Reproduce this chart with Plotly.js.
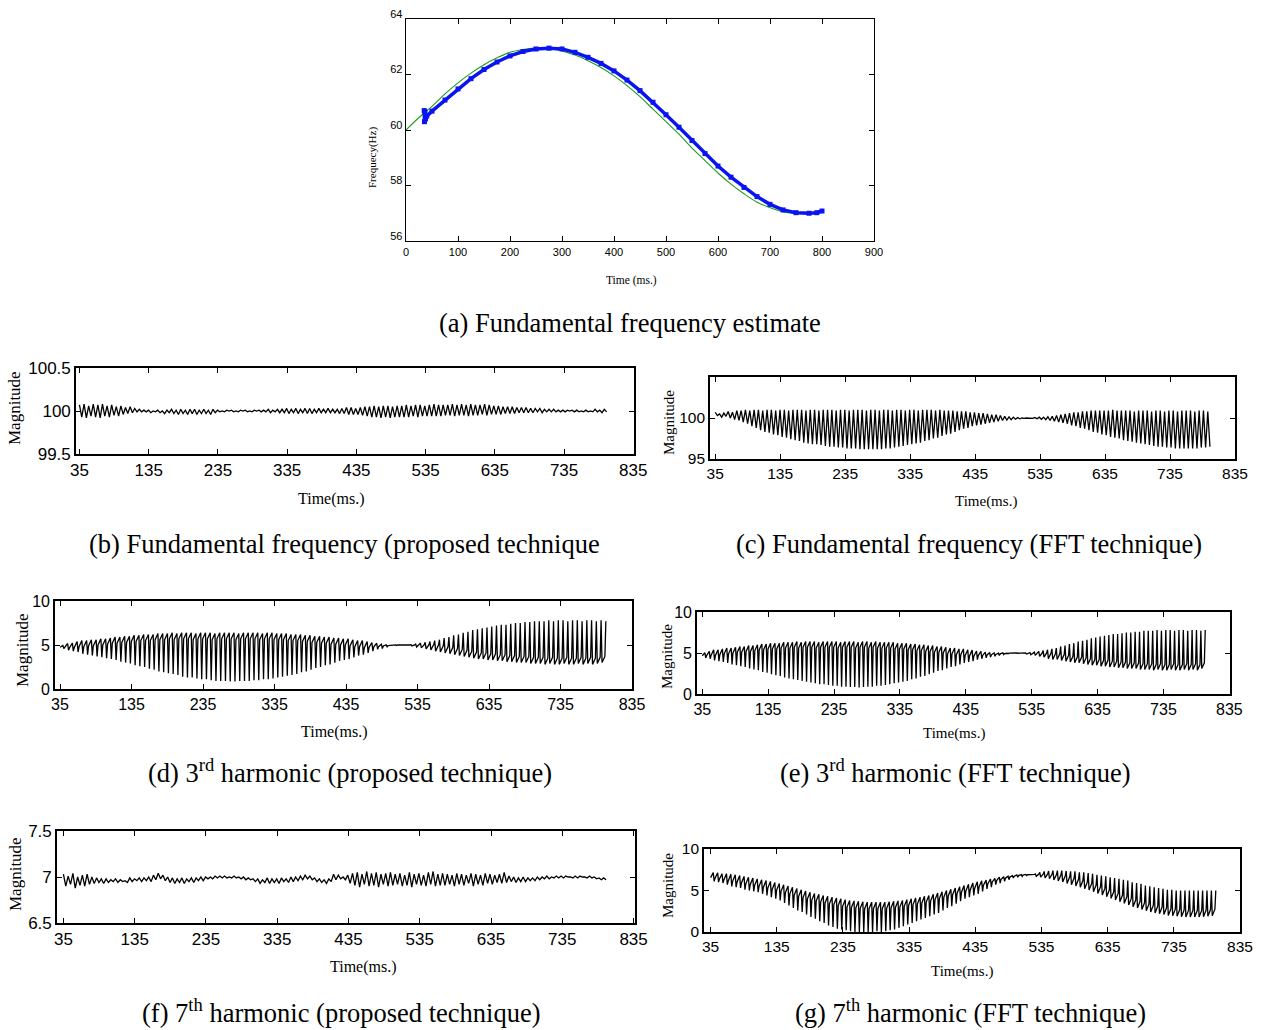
<!DOCTYPE html>
<html><head><meta charset="utf-8">
<script src="https://cdn.plot.ly/plotly-3.0.1.min.js"></script>
<style>html,body{margin:0;padding:0;background:#fff}#chart{width:1262px;height:1030px}</style>
</head><body><div id="chart"></div>
<script>
// ---------- (a) fundamental frequency estimate ----------
const greenTime = [0,25,50,75,100,125,150,175,200,225,250,275,300,325,350,375,400,425,450,475,500,525,550,575,600,625,650,675,700,725,750,775];
const greenFreq = [60.0,60.45,60.85,61.3,61.7,62.05,62.35,62.6,62.8,62.9,62.95,62.95,62.85,62.7,62.5,62.25,61.95,61.6,61.2,60.75,60.3,59.85,59.35,58.9,58.45,58.05,57.7,57.4,57.2,57.05,57.0,57.0];
const blueTime = [35,35.5,36.5,37.5,40,50,75,100,125,150,175,200,225,250,275,300,325,350,375,400,425,450,475,500,525,550,575,600,625,650,675,700,725,750,775,790,800];
const blueFreq = [60.7,60.3,60.65,60.4,60.5,60.68,61.08,61.48,61.85,62.18,62.45,62.67,62.83,62.92,62.95,62.92,62.8,62.62,62.4,62.13,61.8,61.42,61.0,60.55,60.1,59.62,59.15,58.7,58.3,57.93,57.6,57.32,57.12,57.02,57.0,57.02,57.08];

// ---------- oscillating estimates: one value per oscillation cycle ----------
const startMs = 35;
const cycleMs = 6.65;
const timeTicks = [35,135,235,335,435,535,635,735,835];

// (b) fundamental, proposed technique
const bUpper = [100.07,100.08,100.06,100.08,100.07,100.08,100.06,100.07,100.05,100.06,
100.04,100.05,100.03,100.02,100.01,100.01,100.0,100.01,100.0,100.01,
100.02,100.01,100.02,100.01,100.02,100.02,100.01,100.02,100.01,100.02,
100.01,100.0,100.01,100.01,100.0,100.01,100.01,100.0,100.01,100.01,
100.01,100.02,100.01,100.02,100.02,100.03,100.02,100.03,100.02,100.03,
100.03,100.02,100.03,100.02,100.03,100.02,100.02,100.03,100.04,100.04,
100.03,100.04,100.05,100.05,100.06,100.05,100.06,100.06,100.05,100.06,
100.06,100.07,100.06,100.07,100.07,100.06,100.07,100.08,100.07,100.07,
100.07,100.08,100.07,100.08,100.07,100.08,100.07,100.07,100.08,100.07,
100.06,100.06,100.05,100.05,100.05,100.04,100.04,100.04,100.03,100.03,
100.03,100.02,100.02,100.02,100.01,100.01,100.01,100.01,100.01,100.0,
100.01,100.0,100.02,100.01,100.02];
const bLower = [99.93,99.92,99.94,99.93,99.92,99.94,99.93,99.95,99.94,99.96,
99.97,99.98,99.99,99.99,99.99,99.98,99.99,99.98,99.97,99.98,
99.97,99.96,99.97,99.96,99.97,99.96,99.97,99.97,99.96,99.98,
99.99,99.99,100.0,99.99,99.99,100.0,99.99,99.99,100.0,99.99,
99.99,99.98,99.99,99.98,99.98,99.97,99.98,99.97,99.98,99.97,
99.97,99.98,99.98,99.98,99.98,99.98,99.97,99.97,99.96,99.96,
99.96,99.95,99.94,99.93,99.93,99.92,99.93,99.92,99.93,99.93,
99.93,99.93,99.94,99.93,99.94,99.94,99.94,99.94,99.94,99.95,
99.95,99.94,99.95,99.95,99.94,99.95,99.95,99.96,99.95,99.96,
99.96,99.96,99.97,99.97,99.97,99.98,99.98,99.98,99.98,99.99,
99.98,99.99,99.99,99.99,99.99,99.99,100.0,99.99,99.99,99.99,
99.99,99.99,99.99,99.98,99.99];

// (c) fundamental, FFT technique
const cUpper = [100.7,100.5,100.6,100.8,100.7,100.9,100.9,101.0,100.9,101.0,
101.0,100.9,101.0,101.0,100.9,101.0,101.0,100.9,101.0,101.0,
101.0,100.9,101.0,101.0,100.9,101.0,101.0,101.0,100.9,101.0,
101.0,100.9,101.0,101.0,101.0,100.9,101.0,101.0,100.9,101.0,
101.0,100.9,101.0,101.0,100.9,101.0,101.0,100.9,101.0,101.0,
101.0,100.9,101.0,100.9,100.9,100.9,100.8,100.8,100.8,100.7,
100.7,100.6,100.6,100.5,100.4,100.4,100.3,100.2,100.15,100.1,
100.05,100.0,100.0,100.0,100.05,100.1,100.1,100.15,100.2,100.3,
100.4,100.5,100.6,100.7,100.7,100.8,100.8,100.9,100.9,100.9,
100.9,100.9,101.0,100.9,100.9,100.9,100.9,100.8,100.9,100.9,
100.9,100.8,100.9,100.9,100.8,100.9,100.9,100.8,100.9,100.9,
100.9,100.8,100.9,100.9,100.8];
const cLower = [100.3,100.1,100.2,100.0,99.8,99.7,99.5,99.3,99.0,98.8,
98.5,98.3,98.2,98.0,97.9,97.7,97.6,97.4,97.3,97.2,
97.0,96.9,96.8,96.8,96.7,96.6,96.5,96.5,96.4,96.4,
96.3,96.3,96.3,96.2,96.2,96.2,96.2,96.2,96.2,96.3,
96.3,96.4,96.5,96.6,96.7,96.8,96.9,97.0,97.2,97.3,
97.5,97.6,97.8,98.0,98.1,98.3,98.5,98.7,98.8,99.0,
99.1,99.2,99.3,99.4,99.5,99.6,99.7,99.75,99.8,99.85,
99.9,99.95,100.0,99.95,99.9,99.85,99.8,99.7,99.6,99.5,
99.4,99.3,99.1,99.0,98.8,98.7,98.5,98.3,98.2,98.0,
97.9,97.7,97.6,97.5,97.3,97.2,97.1,97.0,96.9,96.8,
96.7,96.6,96.5,96.5,96.4,96.4,96.3,96.3,96.3,96.3,
96.3,96.3,96.4,96.4,96.5];

// (d) 3rd harmonic, proposed technique: dense band level and spike tip per cycle
const dBand = [4.85,4.95,4.95,5.05,5.15,5.15,5.25,5.25,5.35,5.35,
5.45,5.55,5.55,5.65,5.65,5.75,5.75,5.85,5.85,5.85,
5.95,5.95,5.95,6.05,5.95,6.05,6.05,6.05,5.95,6.05,
6.05,6.05,5.95,6.05,6.05,6.05,6.05,5.95,6.05,6.05,
6.05,6.05,5.95,6.05,6.05,5.95,5.95,5.95,5.85,5.85,
5.85,5.75,5.75,5.65,5.65,5.55,5.55,5.45,5.45,5.35,
5.35,5.25,5.15,5.15,5.05,5.0,5.0,4.95,4.95,4.95,
5.0,5.0,4.98,4.97,4.95,4.9,4.85,4.8,4.75,4.65,
4.55,4.45,4.35,4.25,4.15,4.05,3.95,3.85,3.75,3.75,
3.65,3.65,3.55,3.55,3.45,3.45,3.35,3.35,3.35,3.25,
3.25,3.25,3.15,3.25,3.15,3.15,3.25,3.15,3.15,3.25,
3.15,3.25,3.15,3.25,3.35];
const dSpike = [4.6,4.4,4.3,4.2,4.0,3.9,3.8,3.7,3.6,3.5,
3.4,3.3,3.1,3.0,2.9,2.7,2.6,2.5,2.3,2.2,
2.0,1.9,1.8,1.7,1.6,1.4,1.3,1.3,1.2,1.1,
1.1,1.0,0.9,0.9,0.9,0.85,0.85,0.9,0.9,0.9,
1.0,1.0,1.1,1.1,1.2,1.3,1.4,1.5,1.6,1.7,
1.9,2.0,2.2,2.4,2.5,2.7,2.8,3.0,3.2,3.3,
3.4,3.6,3.8,3.9,4.1,4.3,4.5,4.6,4.8,4.9,
4.95,5.0,5.0,5.05,5.1,5.2,5.3,5.4,5.5,5.6,
5.8,5.9,6.1,6.2,6.4,6.5,6.7,6.8,6.9,7.0,
7.1,7.2,7.3,7.3,7.4,7.5,7.5,7.6,7.6,7.7,
7.7,7.7,7.8,7.7,7.8,7.8,7.7,7.8,7.8,7.7,
7.8,7.8,7.7,7.8,7.7];

// (e) 3rd harmonic, FFT technique
const eBand = [4.85,4.95,5.05,5.05,5.15,5.25,5.25,5.35,5.45,5.45,
5.55,5.55,5.65,5.75,5.75,5.85,5.85,5.85,5.95,5.95,
5.95,6.05,5.95,6.05,6.05,6.05,5.95,6.05,6.05,6.05,
6.05,5.95,6.05,6.05,6.05,5.95,6.05,6.05,5.95,6.05,
5.95,5.95,5.95,5.95,5.85,5.85,5.85,5.75,5.75,5.65,
5.65,5.55,5.55,5.45,5.45,5.35,5.25,5.25,5.15,5.15,
5.05,5.0,4.95,4.95,4.9,4.9,4.9,4.9,4.95,4.95,
5.0,5.0,4.98,4.95,4.92,4.88,4.85,4.8,4.75,4.65,
4.55,4.55,4.45,4.35,4.25,4.15,4.15,4.05,3.95,3.85,
3.85,3.75,3.75,3.65,3.65,3.55,3.55,3.45,3.45,3.45,
3.35,3.35,3.35,3.25,3.35,3.25,3.25,3.35,3.25,3.25,
3.35,3.25,3.35,3.25,3.45];
const eSpike = [4.4,4.3,4.1,4.0,3.9,3.8,3.6,3.5,3.4,3.3,
3.1,3.0,2.9,2.7,2.6,2.4,2.3,2.2,2.0,1.9,
1.8,1.7,1.6,1.5,1.4,1.3,1.2,1.2,1.1,1.0,
1.0,0.9,0.9,0.85,0.85,0.8,0.85,0.9,0.9,1.0,
1.0,1.1,1.2,1.3,1.4,1.5,1.6,1.8,1.9,2.1,
2.2,2.4,2.6,2.8,2.9,3.1,3.3,3.4,3.6,3.8,
3.9,4.0,4.2,4.3,4.4,4.5,4.6,4.7,4.8,4.9,
4.95,5.0,5.0,5.0,5.05,5.1,5.2,5.3,5.4,5.5,
5.6,5.8,5.9,6.1,6.2,6.4,6.5,6.6,6.8,6.9,
7.0,7.1,7.2,7.3,7.3,7.4,7.5,7.5,7.6,7.6,
7.7,7.7,7.7,7.8,7.7,7.8,7.8,7.7,7.8,7.8,
7.7,7.8,7.8,7.7,7.8];
const harmonic3Ripple = 0.35;

// (f) 7th harmonic, proposed technique
const fUpper = [7.03,7.01,7.04,7.0,7.02,7.03,7.0,6.99,6.98,6.98,
6.97,6.98,6.97,6.96,6.99,6.98,6.99,6.99,7.0,7.02,
7.04,7.02,7.0,6.99,6.98,6.99,6.98,6.99,6.99,7.0,
7.0,7.0,7.01,7.01,7.01,7.0,7.01,7.0,7.0,6.99,
6.98,6.98,6.97,6.99,6.98,6.98,6.99,6.98,7.0,7.0,
7.01,7.02,7.01,6.99,6.98,6.97,6.98,7.03,7.02,7.0,
7.02,7.04,7.05,7.03,7.06,7.04,7.05,7.03,7.04,7.05,
7.03,7.04,7.02,7.05,7.03,7.04,7.02,7.05,7.06,7.03,
7.04,7.03,7.02,7.04,7.03,7.02,7.04,7.03,7.02,7.04,
7.03,7.02,7.03,7.05,7.01,7.0,6.99,7.0,6.99,6.99,
7.0,7.0,7.01,7.0,7.01,7.01,7.01,7.0,7.01,7.01,
7.0,7.01,7.0,6.99,6.99];
const fLower = [6.9,6.92,6.88,6.91,6.9,6.92,6.93,6.94,6.93,6.94,
6.95,6.94,6.95,6.94,6.95,6.96,6.95,6.96,6.95,6.97,
6.98,6.96,6.94,6.93,6.94,6.93,6.95,6.94,6.96,6.96,
6.98,6.98,6.99,6.99,6.99,6.99,6.99,6.98,6.97,6.97,
6.95,6.93,6.94,6.93,6.94,6.93,6.95,6.94,6.95,6.96,
6.97,6.98,6.97,6.95,6.94,6.93,6.95,6.97,6.98,6.97,
6.93,6.91,6.89,6.92,6.9,6.91,6.89,6.92,6.9,6.91,
6.92,6.9,6.91,6.89,6.92,6.91,6.9,6.92,6.9,6.91,
6.91,6.92,6.9,6.92,6.91,6.93,6.9,6.92,6.91,6.93,
6.92,6.94,6.93,6.94,6.95,6.94,6.95,6.95,6.96,6.96,
6.97,6.98,6.98,6.99,6.99,6.99,7.0,6.99,6.99,7.0,
6.99,6.99,6.98,6.97,6.97];

// (g) 7th harmonic, FFT technique
const gBand = [6.85,6.8,6.7,6.65,6.55,6.5,6.4,6.3,6.2,6.1,
6.0,5.9,5.8,5.7,5.55,5.45,5.3,5.15,5.0,4.85,
4.7,4.55,4.4,4.25,4.15,4.0,3.9,3.8,3.7,3.6,
3.5,3.4,3.35,3.3,3.25,3.2,3.2,3.2,3.2,3.2,
3.25,3.3,3.35,3.4,3.5,3.6,3.7,3.8,3.9,4.0,
4.15,4.3,4.45,4.6,4.75,4.9,5.05,5.2,5.35,5.5,
5.65,5.8,5.95,6.1,6.25,6.4,6.5,6.6,6.7,6.8,
6.85,6.9,6.9,6.9,6.85,6.8,6.75,6.7,6.6,6.5,
6.4,6.25,6.1,5.95,5.8,5.6,5.45,5.25,5.05,4.85,
4.65,4.45,4.25,4.05,3.85,3.65,3.45,3.3,3.1,2.95,
2.8,2.7,2.6,2.5,2.4,2.35,2.3,2.25,2.2,2.2,
2.2,2.2,2.25,2.3,2.35];
const gSpike = [6.1,6.0,5.9,5.7,5.5,5.4,5.3,5.1,5.0,4.9,
4.8,4.6,4.4,4.2,4.0,3.8,3.5,3.2,2.9,2.6,
2.4,2.1,1.8,1.6,1.3,1.1,0.8,0.6,0.4,0.3,
0.2,0.1,0.0,0.0,0.0,0.0,0.0,0.1,0.0,0.1,
0.2,0.3,0.5,0.7,0.9,1.1,1.3,1.5,1.7,1.9,
2.1,2.3,2.6,2.9,3.1,3.4,3.7,4.0,4.2,4.4,
4.6,4.9,5.2,5.4,5.7,5.9,6.1,6.3,6.5,6.6,
6.7,6.8,6.9,7.0,7.2,7.3,7.35,7.4,7.4,7.4,
7.35,7.3,7.3,7.2,7.2,7.1,7.0,6.9,6.8,6.7,
6.6,6.5,6.4,6.3,6.2,6.0,5.9,5.8,5.6,5.5,
5.4,5.3,5.2,5.1,5.1,5.0,5.0,5.0,5.0,5.0,
5.0,5.0,5.0,5.0,5.0];
const harmonic7Ripple = 0.4;

// ---------- builders ----------
function zigzag(upper, lower) {
  const x = [], y = [];
  const n = Math.min(upper.length, lower.length);
  for (let k = 0; k < n; k++) {
    const t = startMs + k * cycleMs;
    x.push(t); y.push(upper[k]);
    x.push(t + 0.5 * cycleMs); y.push(lower[k]);
  }
  return {x, y};
}
function spiky(band, spike, ripple) {
  const x = [], y = [];
  const n = Math.min(band.length, spike.length);
  for (let k = 0; k < n; k++) {
    const t = startMs + k * cycleMs;
    const r = Math.min(ripple, 0.4 * Math.abs(spike[k] - band[k]));
    x.push(t); y.push(band[k] - r);
    x.push(t + 0.6 * cycleMs); y.push(band[k] + r);
    x.push(t + 0.8 * cycleMs); y.push(spike[k]);
  }
  return {x, y};
}

const W = 1262, H = 1030;
const px = v => v / W;
const py = v => 1 - v / H;

const boxes = {
  a: [406, 19, 874, 241],
  b: [76, 368, 634, 454],
  c: [710, 377, 1235, 459],
  d: [55, 601, 632, 689],
  e: [697, 612, 1230, 694],
  f: [57, 831, 635, 923],
  g: [704, 849, 1240, 932]
};
const SANS = 'Liberation Sans, Arial, sans-serif';
const SERIF = 'Liberation Serif, Times New Roman, serif';

function xAx(box, range, vals, size, anchor, lw) {
  return {domain: [px(box[0]), px(box[2])], range, tickmode: 'array', tickvals: vals, ticktext: vals.map(String),
    ticks: 'inside', ticklen: 5, tickwidth: 1, tickcolor: '#000', showline: true, linecolor: '#000', linewidth: lw,
    mirror: 'ticks', showgrid: false, zeroline: false, anchor,
    tickfont: {family: SANS, size, color: '#000'}, fixedrange: true};
}
function yAx(box, range, vals, texts, size, anchor, lw) {
  return {domain: [py(box[3]), py(box[1])], range, tickmode: 'array', tickvals: vals, ticktext: texts,
    ticks: 'inside', ticklen: 5, tickwidth: 1, tickcolor: '#000', showline: true, linecolor: '#000', linewidth: lw,
    mirror: 'ticks', showgrid: false, zeroline: false, anchor,
    tickfont: {family: SANS, size, color: '#000'}, fixedrange: true};
}

const blackLine = {color: '#000', width: 1.3};
const traces = [];
traces.push({x: greenTime, y: greenFreq, type: 'scatter', mode: 'lines', line: {color: '#1E9A1E', width: 1.1, shape: 'spline'}, xaxis: 'x', yaxis: 'y', hoverinfo: 'skip'});
traces.push({x: blueTime, y: blueFreq, type: 'scatter', mode: 'lines+markers', line: {color: '#0A14F0', width: 3.5}, marker: {symbol: 'square', size: 5, color: '#0A14F0'}, xaxis: 'x', yaxis: 'y', hoverinfo: 'skip'});
const sB = zigzag(bUpper, bLower);
traces.push({x: sB.x, y: sB.y, type: 'scatter', mode: 'lines', line: blackLine, xaxis: 'x2', yaxis: 'y2', hoverinfo: 'skip'});
const sC = zigzag(cUpper, cLower);
traces.push({x: sC.x, y: sC.y, type: 'scatter', mode: 'lines', line: blackLine, xaxis: 'x3', yaxis: 'y3', hoverinfo: 'skip'});
const sD = spiky(dBand, dSpike, harmonic3Ripple);
traces.push({x: sD.x, y: sD.y, type: 'scatter', mode: 'lines', line: blackLine, xaxis: 'x4', yaxis: 'y4', hoverinfo: 'skip'});
const sE = spiky(eBand, eSpike, harmonic3Ripple);
traces.push({x: sE.x, y: sE.y, type: 'scatter', mode: 'lines', line: blackLine, xaxis: 'x5', yaxis: 'y5', hoverinfo: 'skip'});
const sF = zigzag(fUpper, fLower);
traces.push({x: sF.x, y: sF.y, type: 'scatter', mode: 'lines', line: blackLine, xaxis: 'x6', yaxis: 'y6', hoverinfo: 'skip'});
const sG = spiky(gBand, gSpike, harmonic7Ripple);
traces.push({x: sG.x, y: sG.y, type: 'scatter', mode: 'lines', line: blackLine, xaxis: 'x7', yaxis: 'y7', hoverinfo: 'skip'});

function ann(text, x, y, size, family, angle) {
  return {text, x: px(x), y: py(y), xref: 'paper', yref: 'paper', xanchor: 'center', yanchor: 'middle',
    showarrow: false, textangle: angle || 0, font: {family, size, color: '#000'}};
}
const capSize = 26.5;
const annotations = [
  ann('Frequecy(Hz)', 372, 158, 11, SERIF, -90),
  ann('Time (ms.)', 631, 281, 11.5, SERIF),
  ann('(a) Fundamental frequency estimate', 630, 323, capSize, SERIF),
  ann('Magnitude', 15, 408, 17, SERIF, -90),
  ann('Time(ms.)', 331, 499, 16, SERIF),
  ann('(b) Fundamental frequency (proposed technique', 344, 544, capSize, SERIF),
  ann('Magnitude', 669, 423, 15, SERIF, -90),
  ann('Time(ms.)', 986, 501, 15, SERIF),
  ann('(c) Fundamental frequency (FFT technique)', 969, 544, capSize, SERIF),
  ann('Magnitude', 22, 650, 17, SERIF, -90),
  ann('Time(ms.)', 334, 732, 16, SERIF),
  ann('(d) 3<sup>rd</sup> harmonic (proposed technique)', 350, 771, capSize, SERIF),
  ann('Magnitude', 667, 657, 15, SERIF, -90),
  ann('Time(ms.)', 954, 733, 15, SERIF),
  ann('(e) 3<sup>rd</sup> harmonic (FFT technique)', 955, 771, capSize, SERIF),
  ann('Magnitude', 15, 874, 17, SERIF, -90),
  ann('Time(ms.)', 363, 967, 16, SERIF),
  ann('(f) 7<sup>th</sup> harmonic (proposed technique)', 341, 1011, capSize, SERIF),
  ann('Magnitude', 668, 886, 15, SERIF, -90),
  ann('Time(ms.)', 962, 971, 15, SERIF),
  ann('(g) 7<sup>th</sup> harmonic (FFT technique)', 970, 1011, capSize, SERIF)
];

const aXvals = [0,100,200,300,400,500,600,700,800,900];
const layout = {
  width: W, height: H, margin: {l: 0, r: 0, t: 0, b: 0},
  paper_bgcolor: '#fff', plot_bgcolor: '#fff', showlegend: false,
  xaxis: xAx(boxes.a, [0, 900], aXvals, 11, 'y', 1.3),
  yaxis: Object.assign(yAx(boxes.a, [56, 64], [56,58,60,62,64], ['56','58','60','62','64'], 11, 'x', 1.3), {ticklabelshift: -5}),
  xaxis2: xAx(boxes.b, [30, 836], timeTicks, 17, 'y2', 1.8),
  yaxis2: yAx(boxes.b, [99.5, 100.5], [99.5, 100, 100.5], ['99.5','100','100.5'], 17, 'x2', 1.8),
  xaxis3: xAx(boxes.c, [27, 835], timeTicks, 15.5, 'y3', 1.8),
  yaxis3: yAx(boxes.c, [95, 105], [95, 100], ['95','100'], 15.5, 'x3', 1.8),
  xaxis4: xAx(boxes.d, [28, 835], timeTicks, 16, 'y4', 1.8),
  yaxis4: yAx(boxes.d, [0, 10], [0, 5, 10], ['0','5','10'], 16, 'x4', 1.8),
  xaxis5: xAx(boxes.e, [27, 836], timeTicks, 16, 'y5', 1.8),
  yaxis5: yAx(boxes.e, [0, 10], [0, 5, 10], ['0','5','10'], 16, 'x5', 1.8),
  xaxis6: xAx(boxes.f, [26, 837], timeTicks, 17, 'y6', 1.8),
  yaxis6: yAx(boxes.f, [6.5, 7.5], [6.5, 7, 7.5], ['6.5','7','7.5'], 17, 'x6', 1.8),
  xaxis7: xAx(boxes.g, [25, 835], timeTicks, 15.5, 'y7', 1.8),
  yaxis7: yAx(boxes.g, [0, 10], [0, 5, 10], ['0','5','10'], 15.5, 'x7', 1.8),
  annotations
};
Plotly.newPlot('chart', traces, layout, {staticPlot: true, displayModeBar: false});
</script></body></html>
